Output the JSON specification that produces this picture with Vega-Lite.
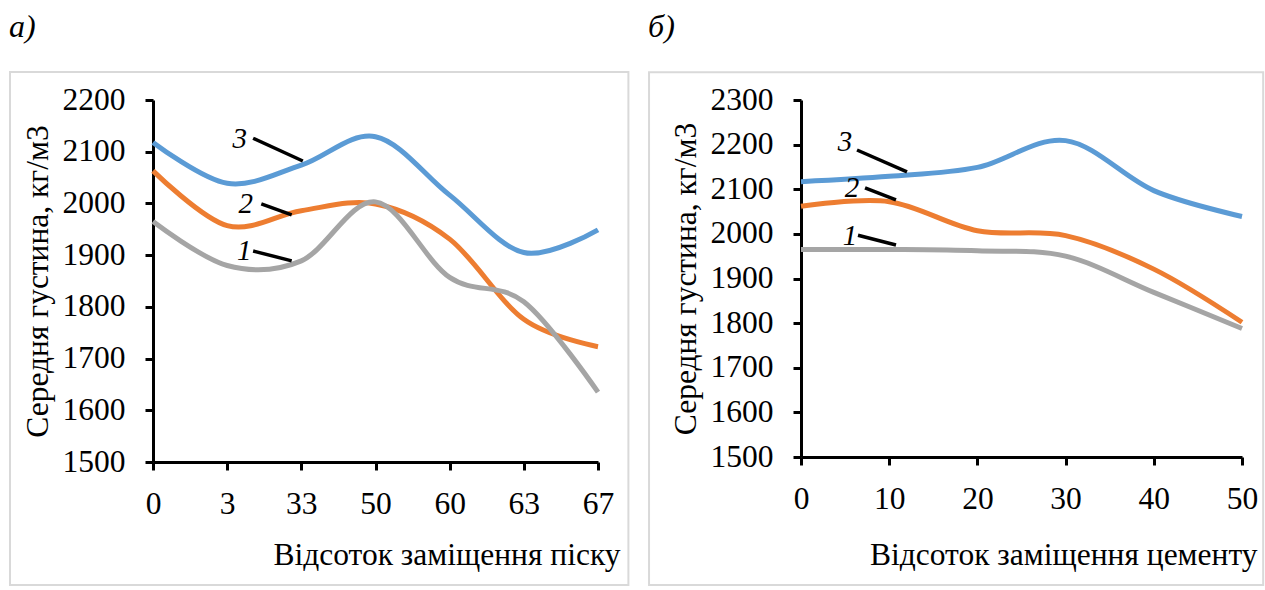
{
  "$schema": "https://vega.github.io/schema/vega-lite/v6.json",
  "background": "white",
  "padding": {"left": 9, "top": 11, "right": 0, "bottom": 0},
  "bounds": "flush",
  "spacing": 203,
  "config": {
    "font": "Liberation Serif",
    "view": {"stroke": null},
    "axis": {
      "labelFont": "Liberation Serif", "titleFont": "Liberation Serif",
      "labelFontSize": 31.5, "titleFontSize": 31.5, "titleFontWeight": "normal",
      "labelColor": "#000000", "titleColor": "#000000",
      "domainColor": "#000000", "domainWidth": 3,
      "tickColor": "#000000", "tickWidth": 3, "tickSize": 8,
      "gridColor": "#d9d9d9", "gridWidth": 2
    },
    "title": {"font": "Liberation Serif", "fontSize": 32, "fontStyle": "italic", "fontWeight": "normal", "anchor": "start", "frame": "bounds", "color": "#000000", "baseline": "alphabetic", "offset": 27}
  },
  "datasets": {
    "a": [
      {"series": "3", "i": 0, "pct": "0", "density": 2118},
      {"series": "3", "i": 1, "pct": "3", "density": 2039},
      {"series": "3", "i": 2, "pct": "33", "density": 2074},
      {"series": "3", "i": 3, "pct": "50", "density": 2129},
      {"series": "3", "i": 4, "pct": "60", "density": 2016},
      {"series": "3", "i": 5, "pct": "63", "density": 1905},
      {"series": "3", "i": 6, "pct": "67", "density": 1949},
      {"series": "2", "i": 0, "pct": "0", "density": 2063},
      {"series": "2", "i": 1, "pct": "3", "density": 1957},
      {"series": "2", "i": 2, "pct": "33", "density": 1986},
      {"series": "2", "i": 3, "pct": "50", "density": 1999},
      {"series": "2", "i": 4, "pct": "60", "density": 1931},
      {"series": "2", "i": 5, "pct": "63", "density": 1776},
      {"series": "2", "i": 6, "pct": "67", "density": 1723},
      {"series": "1", "i": 0, "pct": "0", "density": 1965},
      {"series": "1", "i": 1, "pct": "3", "density": 1880},
      {"series": "1", "i": 2, "pct": "33", "density": 1889},
      {"series": "1", "i": 3, "pct": "50", "density": 2003},
      {"series": "1", "i": 4, "pct": "60", "density": 1857},
      {"series": "1", "i": 5, "pct": "63", "density": 1810},
      {"series": "1", "i": 6, "pct": "67", "density": 1635}
    ],
    "b": [
      {"series": "3", "pct": 0, "density": 2117},
      {"series": "3", "pct": 10, "density": 2129},
      {"series": "3", "pct": 20, "density": 2149},
      {"series": "3", "pct": 30, "density": 2209},
      {"series": "3", "pct": 40, "density": 2097},
      {"series": "3", "pct": 50, "density": 2039},
      {"series": "2", "pct": 0, "density": 2062},
      {"series": "2", "pct": 10, "density": 2072},
      {"series": "2", "pct": 20, "density": 2007},
      {"series": "2", "pct": 30, "density": 1996},
      {"series": "2", "pct": 40, "density": 1921},
      {"series": "2", "pct": 50, "density": 1802},
      {"series": "1", "pct": 0, "density": 1965},
      {"series": "1", "pct": 10, "density": 1965},
      {"series": "1", "pct": 20, "density": 1962},
      {"series": "1", "pct": 30, "density": 1950},
      {"series": "1", "pct": 40, "density": 1869},
      {"series": "1", "pct": 50, "density": 1788}
    ],
    "annA": [
      {"label": "3", "tx": 1.17, "ty": 2125, "lx1": 1.35, "ly1": 2126, "lx2": 2.02, "ly2": 2082},
      {"label": "2", "tx": 1.25, "ty": 1999, "lx1": 1.46, "ly1": 1999, "lx2": 1.87, "ly2": 1978},
      {"label": "1", "tx": 1.23, "ty": 1908, "lx1": 1.35, "ly1": 1908, "lx2": 1.87, "ly2": 1889}
    ],
    "annB": [
      {"label": "3", "tx": 4.99, "ty": 2206, "lx1": 6.35, "ly1": 2188, "lx2": 12.02, "ly2": 2139},
      {"label": "2", "tx": 5.78, "ty": 2103, "lx1": 7.26, "ly1": 2103, "lx2": 10.77, "ly2": 2076},
      {"label": "1", "tx": 5.56, "ty": 1995, "lx1": 6.46, "ly1": 1997, "lx2": 10.77, "ly2": 1975}
    ]
  },
  "hconcat": [
    {
      "title": {"text": "а)"},
      "width": 445,
      "height": 362,
      "layer": [
        {
          "data": {"values": [{}]},
          "mark": {"type": "rect", "filled": false, "stroke": "#d9d9d9", "strokeWidth": 2, "clip": false},
          "encoding": {
            "x": {"datum": -1.928, "type": "quantitative"},
            "x2": {"datum": 6.41},
            "y": {"datum": 2254, "type": "quantitative"},
            "y2": {"datum": 1262}
          }
        },
        {
          "data": {"name": "a"},
          "mark": {"type": "line", "interpolate": "cardinal", "strokeWidth": 5, "strokeCap": "butt"},
          "encoding": {
            "x": {
              "field": "i", "type": "quantitative",
              "scale": {"domain": [0, 6], "nice": false, "zero": false},
              "axis": {
                "values": [0, 1, 2, 3, 4, 5, 6],
                "labelExpr": "['0','3','33','50','60','63','67'][datum.value]",
                "grid": false, "labelPadding": 18, "labelFlush": false,
                "labelFont": "Liberation Serif", "labelFontSize": 31.5,
                "titleFont": "Liberation Serif", "titleFontSize": 31.5, "titleFontWeight": "normal",
                "title": "Відсоток заміщення піску",
                "titleX": 467, "titleY": 102, "titleAlign": "right", "titleBaseline": "alphabetic", "titleAnchor": "end"
              }
            },
            "y": {
              "field": "density", "type": "quantitative",
              "scale": {"domain": [1500, 2200], "nice": false, "zero": false},
              "axis": {
                "values": [1500, 1600, 1700, 1800, 1900, 2000, 2100, 2200],
                "format": "d",
                "labelFont": "Liberation Serif", "labelFontSize": 31.5,
                "titleFont": "Liberation Serif", "titleFontSize": 31.5, "titleFontWeight": "normal",
                "labelPadding": 20, "titlePadding": 8,
                "title": "Середня густина, кг/м3"
              }
            },
            "color": {
              "field": "series", "type": "nominal",
              "scale": {"domain": ["1", "2", "3"], "range": ["#a5a5a5", "#ed7d31", "#5b9bd5"]},
              "legend": null
            },
            "order": {"field": "i"}
          }
        },
        {
          "data": {"name": "annA"},
          "mark": {"type": "rule", "color": "#000000", "strokeWidth": 3.5},
          "encoding": {
            "x": {"field": "lx1", "type": "quantitative"},
            "x2": {"field": "lx2"},
            "y": {"field": "ly1", "type": "quantitative"},
            "y2": {"field": "ly2"}
          }
        },
        {
          "data": {"name": "annA"},
          "mark": {"type": "text", "font": "Liberation Serif", "fontStyle": "italic", "fontSize": 29, "color": "#000000", "align": "center", "baseline": "middle"},
          "encoding": {
            "x": {"field": "tx", "type": "quantitative"},
            "y": {"field": "ty", "type": "quantitative"},
            "text": {"field": "label"}
          }
        }
      ]
    },
    {
      "title": {"text": "б)"},
      "width": 441,
      "height": 357,
      "layer": [
        {
          "data": {"values": [{}]},
          "mark": {"type": "rect", "filled": false, "stroke": "#d9d9d9", "strokeWidth": 2, "clip": false},
          "encoding": {
            "x": {"datum": -17.23, "type": "quantitative"},
            "x2": {"datum": 52.4},
            "y": {"datum": 2362, "type": "quantitative"},
            "y2": {"datum": 1213}
          }
        },
        {
          "data": {"name": "b"},
          "mark": {"type": "line", "interpolate": "cardinal", "strokeWidth": 5, "strokeCap": "butt"},
          "encoding": {
            "x": {
              "field": "pct", "type": "quantitative",
              "scale": {"domain": [0, 50], "nice": false, "zero": false},
              "axis": {
                "values": [0, 10, 20, 30, 40, 50],
                "grid": false, "labelPadding": 18, "labelFlush": false,
                "labelFont": "Liberation Serif", "labelFontSize": 31.5,
                "titleFont": "Liberation Serif", "titleFontSize": 31.5, "titleFontWeight": "normal",
                "title": "Відсоток заміщення цементу",
                "titleX": 456, "titleY": 107, "titleAlign": "right", "titleBaseline": "alphabetic", "titleAnchor": "end"
              }
            },
            "y": {
              "field": "density", "type": "quantitative",
              "scale": {"domain": [1500, 2300], "nice": false, "zero": false},
              "axis": {
                "values": [1500, 1600, 1700, 1800, 1900, 2000, 2100, 2200, 2300],
                "format": "d",
                "labelFont": "Liberation Serif", "labelFontSize": 31.5,
                "titleFont": "Liberation Serif", "titleFontSize": 31.5, "titleFontWeight": "normal",
                "labelPadding": 20, "titlePadding": 8,
                "title": "Середня густина, кг/м3"
              }
            },
            "color": {
              "field": "series", "type": "nominal",
              "scale": {"domain": ["1", "2", "3"], "range": ["#a5a5a5", "#ed7d31", "#5b9bd5"]},
              "legend": null
            },
            "order": {"field": "pct"}
          }
        },
        {
          "data": {"name": "annB"},
          "mark": {"type": "rule", "color": "#000000", "strokeWidth": 3.5},
          "encoding": {
            "x": {"field": "lx1", "type": "quantitative"},
            "x2": {"field": "lx2"},
            "y": {"field": "ly1", "type": "quantitative"},
            "y2": {"field": "ly2"}
          }
        },
        {
          "data": {"name": "annB"},
          "mark": {"type": "text", "font": "Liberation Serif", "fontStyle": "italic", "fontSize": 29, "color": "#000000", "align": "center", "baseline": "middle"},
          "encoding": {
            "x": {"field": "tx", "type": "quantitative"},
            "y": {"field": "ty", "type": "quantitative"},
            "text": {"field": "label"}
          }
        }
      ]
    }
  ]
}
